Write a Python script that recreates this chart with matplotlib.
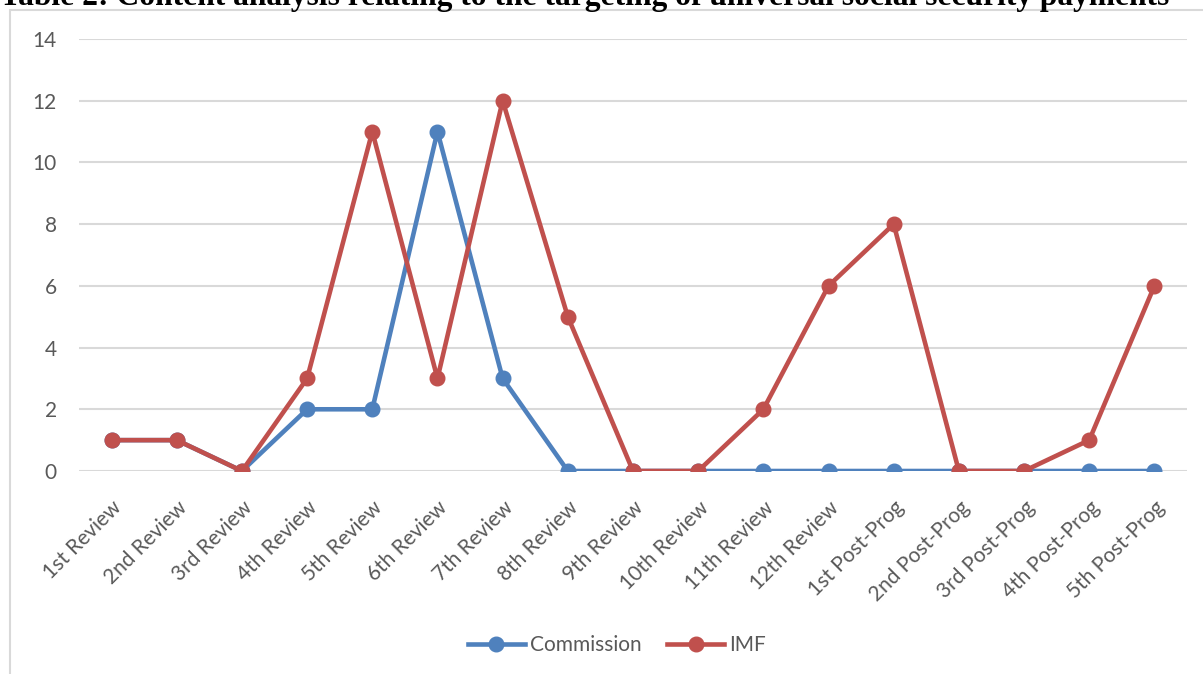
import matplotlib
matplotlib.use("Agg")
import matplotlib.pyplot as plt
from matplotlib.patches import Rectangle

categories = ["1st Review", "2nd Review", "3rd Review", "4th Review", "5th Review",
              "6th Review", "7th Review", "8th Review", "9th Review", "10th Review",
              "11th Review", "12th Review", "1st Post-Prog", "2nd Post-Prog",
              "3rd Post-Prog", "4th Post-Prog", "5th Post-Prog"]
commission = [1, 1, 0, 2, 2, 11, 3, 0, 0, 0, 0, 0, 0, 0, 0, 0, 0]
imf = [1, 1, 0, 3, 11, 3, 12, 5, 0, 0, 2, 6, 8, 0, 0, 1, 6]
yticks = [0, 2, 4, 6, 8, 10, 12, 14]

W, H = 1203, 674
fig = plt.figure(figsize=(W / 100, H / 100), dpi=100)
plt.rcParams['font.family'] = ['Lato', 'DejaVu Sans']

# chart frame (extends past the right and bottom edges)
fig.patches.append(Rectangle((10 / W, -0.1), 1.2, 1 - 10 / H + 0.1,
                             transform=fig.transFigure, fill=False,
                             edgecolor="#d9d9d9", linewidth=1.5))

# title, cut off at the top
fig.text(0.0, 1 - 5 / H, "Table 2: Content analysis relating to the targeting of universal social security payments",
         family="Liberation Serif", weight="bold", fontsize=22.7, ha="left", va="baseline")

ax = fig.add_axes([79 / W, 1 - 471 / H, (1187 - 79) / W, (471 - 39) / H])
x = list(range(len(categories)))
ax.plot(x, commission, color="#4f81bd", lw=3.3, marker="o", ms=10.5, label="Commission", zorder=3)
ax.plot(x, imf, color="#c0504d", lw=3.3, marker="o", ms=10.5, label="IMF", zorder=4)

ax.set_xlim(-0.5, len(categories) - 0.5)
ax.set_ylim(0, 14)
ax.set_yticks(yticks)
ax.yaxis.grid(True, color="#d9d9d9", lw=1.5)
ax.set_axisbelow(True)
for s in ax.spines.values():
    s.set_visible(False)
ax.tick_params(axis="both", length=0, colors="#595959", labelsize=15)
ax.tick_params(axis="y", pad=16)
ax.set_xticks(x)
ax.set_xticklabels(categories, rotation=45, ha="right", rotation_mode="anchor")
ax.tick_params(axis="x", pad=19)
for lbl in ax.get_xticklabels():
    lbl.set_color("#595959")

leg = fig.legend(loc="center", bbox_to_anchor=(617 / W, 1 - 645 / H), ncol=2, frameon=False,
                 fontsize=15, handlelength=2.7, columnspacing=1.25, handletextpad=0.25)
for t in leg.get_texts():
    t.set_color("#595959")

fig.savefig("out.png", dpi=100)
